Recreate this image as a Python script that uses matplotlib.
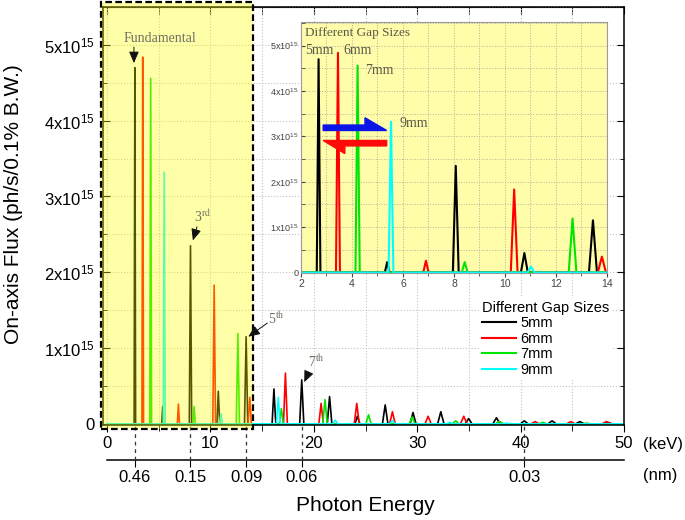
import numpy as np
import matplotlib.pyplot as plt
from matplotlib.patches import Rectangle, FancyArrow
from matplotlib.lines import Line2D
from matplotlib.ticker import MultipleLocator

plt.rcParams['font.family'] = ['Liberation Sans', 'DejaVu Sans']
plt.rcParams['mathtext.fontset'] = 'custom'
plt.rcParams['mathtext.rm'] = 'Liberation Sans'
plt.rcParams['mathtext.it'] = 'Liberation Sans:italic'
plt.rcParams['mathtext.bf'] = 'Liberation Sans:bold'

# Harmonic peaks: energy (keV) and on-axis flux (x1e15)
gap_labels = ['5mm', '6mm', '7mm', '9mm']
gap_colors = ['black', '#ff0000', '#00e600', '#00ffff']

e_5mm = [2.69, 5.38, 8.07, 10.76, 13.45, 16.14, 18.83, 21.52, 24.21, 26.90,
         29.59, 32.28, 34.97, 37.66, 40.35, 43.04, 45.73, 48.42]
h_5mm = [4.70, 0.23, 2.35, 0.43, 1.15, 0.46, 0.58, 0.36, 0.10, 0.25,
         0.15, 0.16, 0.07, 0.08, 0.04, 0.04, 0.03, 0.02]

e_6mm = [3.45, 6.90, 10.36, 13.80, 17.25, 20.70, 24.15, 27.60, 31.05, 34.50,
         37.95, 41.40, 44.85, 48.30]
h_6mm = [4.84, 0.26, 1.83, 0.35, 0.67, 0.27, 0.27, 0.16, 0.10, 0.10,
         0.03, 0.03, 0.03, 0.03]

e_7mm = [4.22, 8.42, 12.65, 16.86, 21.08, 25.29, 29.51, 33.72, 37.94, 42.15, 46.37]
h_7mm = [4.56, 0.23, 1.19, 0.20, 0.32, 0.12, 0.09, 0.04, 0.03, 0.02, 0.01]

e_9mm = [5.53, 11.02, 16.56, 22.08, 27.60, 33.12, 38.64]
h_9mm = [3.32, 0.13, 0.35, 0.05, 0.04, 0.02, 0.01]

peak_energies = [e_5mm, e_6mm, e_7mm, e_9mm]
peak_heights = [h_5mm, h_6mm, h_7mm, h_9mm]

kev_ticks = [0, 10, 20, 30, 40, 50]
flux_ticks = [0, 1e15, 2e15, 3e15, 4e15, 5e15]
flux_labels = ['0', '1x10$^{15}$', '2x10$^{15}$', '3x10$^{15}$', '4x10$^{15}$', '5x10$^{15}$']
inset_kev_ticks = [2, 4, 6, 8, 10, 12, 14]

# wavelength axis: ticks sit on the 5mm harmonics
nm_tick_kev = [2.69, 8.07, 13.45, 18.83, 40.35]
nm_tick_labels = ['0.46', '0.15', '0.09', '0.06', '0.03']


def spectrum(energies, heights):
    # narrow peaks on a zero baseline
    x, y = [0.0], [0.0]
    for e, h in zip(energies, heights):
        w = 0.05 + 0.008 * e
        x += [e - w, e, e + w]
        y += [0.0, h * 1e15, 0.0]
    x.append(50.0)
    y.append(0.0)
    return np.array(x), np.array(y)


fig = plt.figure(figsize=(6.85, 5.2), dpi=100)

# Main plot
ax = fig.add_axes([0.1504, 0.1827, 0.7606, 0.8038])
for es, hs, c in zip(peak_energies, peak_heights, gap_colors):
    x, y = spectrum(es, hs)
    ax.plot(x, y, color=c, lw=1.2, zorder=2)

ax.set_xlim(-0.39, 50)
ax.set_ylim(-0.015e15, 5.5e15)
ax.set_xticks(kev_ticks)
ax.xaxis.set_minor_locator(MultipleLocator(5))
ax.set_yticks(flux_ticks, flux_labels)
ax.yaxis.set_minor_locator(MultipleLocator(0.5e15))
ax.tick_params(axis='x', which='both', direction='out', labelsize=12, pad=3, top=False)
ax.tick_params(axis='x', which='major', length=5)
ax.tick_params(axis='x', which='minor', length=4)
ax.tick_params(axis='y', which='both', direction='in', right=True, labelsize=12, pad=6)
ax.tick_params(axis='y', which='major', length=5)
ax.tick_params(axis='y', which='minor', length=3)
ax.grid(True, which='both', ls=':', color='#c4c4c4', lw=0.8)
ax.set_axisbelow(True)
for s in ax.spines.values():
    s.set_linewidth(1.1)

top = ax.secondary_xaxis('top')
top.set_xticks(kev_ticks)
top.xaxis.set_minor_locator(MultipleLocator(5))
top.tick_params(which='both', direction='in', labeltop=False, length=5)

# wavelength axis below
nm_ax = ax.secondary_xaxis(-0.0837)
nm_ax.set_xticks(nm_tick_kev, nm_tick_labels)
nm_ax.tick_params(direction='out', length=5, labelsize=12, pad=2)
nm_ax.spines['bottom'].set_bounds(0, 50)
nm_ax.spines['bottom'].set_linewidth(1.1)
ax.vlines(nm_tick_kev, -0.0837, 0, transform=ax.get_xaxis_transform(),
          colors='#333333', linestyles=(0, (3, 3)), lw=0.9, clip_on=False)

# harmonic annotations
note = dict(family=['Liberation Serif'], color='#6e6e64', fontsize=10,
            ha='center', va='center', math_fontfamily='stix', zorder=7)
arrow = dict(arrowstyle='-|>,head_length=0.7,head_width=0.3', color='#111111',
             lw=0.7, shrinkA=0, shrinkB=0)
ax.text(5.13, 5.09e15, 'Fundamental', **note)
ax.annotate('', xy=(2.6, 4.76e15), xytext=(2.6, 4.97e15), arrowprops=arrow, zorder=7)
ax.text(9.2, 2.73e15, '3$^{\\mathrm{rd}}$', **note)
ax.annotate('', xy=(8.3, 2.42e15), xytext=(8.7, 2.6e15), arrowprops=arrow, zorder=7)
ax.text(16.35, 1.39e15, '5$^{\\mathrm{th}}$', **note)
ax.annotate('', xy=(13.66, 1.15e15), xytext=(15.5, 1.33e15), arrowprops=arrow, zorder=7)
ax.text(20.2, 0.82e15, '7$^{\\mathrm{th}}$', **note)
ax.annotate('', xy=(19.07, 0.55e15), xytext=(19.5, 0.68e15), arrowprops=arrow, zorder=7)

# yellow highlighted region
ax.add_patch(Rectangle((-0.58, -0.066e15), 14.7, 5.633e15, facecolor=(1, 1, 0, 0.34),
                       edgecolor='none', zorder=4, clip_on=False))
ax.add_patch(Rectangle((-0.58, -0.066e15), 14.7, 5.633e15, fill=False, edgecolor='black',
                       ls=(0, (3, 1.5)), lw=1.6, zorder=6, clip_on=False))

handles = [Line2D([], [], color=c, lw=1.5) for c in gap_colors]
ax.legend(handles, gap_labels, title='Different Gap Sizes', loc='upper left',
          bbox_to_anchor=(0.7, 0.427), bbox_transform=fig.transFigure,
          fontsize=10.5, title_fontsize=10.5, frameon=True, fancybox=False,
          edgecolor='none', facecolor='white', framealpha=1, handlelength=2.3,
          handletextpad=0.3, labelspacing=0.1, borderpad=0.2, borderaxespad=0,
          alignment='left')

# Inset zoom of 2-14 keV
ins = fig.add_axes([0.4394, 0.475, 0.4467, 0.4827])
ins.set_facecolor('#fffcaa')
for es, hs, c in zip(peak_energies, peak_heights, gap_colors):
    x, y = spectrum(es, hs)
    ins.plot(x, y, color=c, lw=1.5, zorder=2)
ins.set_xlim(2, 14)
ins.set_ylim(-0.01e15, 5.52e15)
ins.set_xticks(inset_kev_ticks)
ins.xaxis.set_minor_locator(MultipleLocator(1))
ins.set_yticks(flux_ticks, flux_labels)
ins.yaxis.set_minor_locator(MultipleLocator(0.5e15))
ins.tick_params(axis='x', which='both', direction='out', labelsize=7.5, pad=1.5,
                colors='#444444', length=3)
ins.tick_params(axis='x', which='minor', length=2)
ins.tick_params(axis='y', which='both', direction='in', labelsize=6.5, pad=2,
                colors='#444444', length=3)
ins.grid(True, which='both', ls=':', color='#b4b49a', lw=0.7)
ins.set_axisbelow(True)
for s in ins.spines.values():
    s.set_color('#9a9a9a')
    s.set_linewidth(0.8)

serif = dict(family=['Liberation Serif'], color='#5a5a48', va='center', ha='left')
ins.text(2.16, 5.28e15, 'Different Gap Sizes', fontsize=9.5, **serif)
ins.text(2.16, 4.9e15, '5mm', fontsize=10, **serif)
ins.text(3.66, 4.89e15, '6mm', fontsize=10, **serif)
ins.text(4.5, 4.45e15, '7mm', fontsize=10, **serif)
ins.text(5.88, 3.29e15, '9mm', fontsize=10, **serif)

# gap-change arrows
ins.add_patch(FancyArrow(2.87, 3.13e15, 2.49, 0, width=0.24e15, head_width=0.56e15,
                         head_length=0.85, shape='right', length_includes_head=True,
                         color='#0a14e6', zorder=5))
ins.add_patch(FancyArrow(5.36, 2.91e15, -2.49, 0, width=0.24e15, head_width=0.58e15,
                         head_length=0.85, shape='right', length_includes_head=True,
                         color='#ff0a0a', zorder=5))

# axis titles
fig.text(0.02, 0.607, 'On-axis Flux (ph/s/0.1% B.W.)', rotation=90, ha='center',
         va='center', fontsize=15)
fig.text(0.534, 0.027, 'Photon Energy', ha='center', va='center', fontsize=15)
fig.text(0.939, 0.146, '(keV)', ha='left', va='center', fontsize=12)
fig.text(0.939, 0.0865, '(nm)', ha='left', va='center', fontsize=12)

fig.savefig('out.png', dpi=100)
